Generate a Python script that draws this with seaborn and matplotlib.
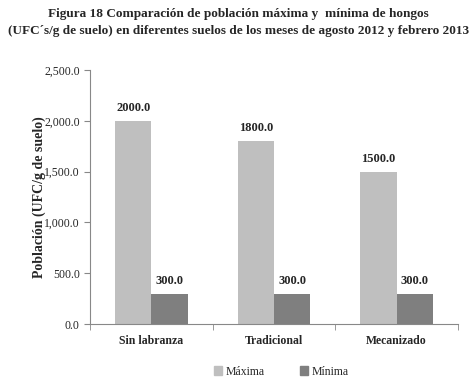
import numpy as np
import pandas as pd
import seaborn as sns
import matplotlib.pyplot as plt
from matplotlib.patches import Patch
from matplotlib.ticker import FuncFormatter

suelos = ['Sin labranza', 'Tradicional', 'Mecanizado']
maxima = [2000.0, 1800.0, 1500.0]
minima = [300.0, 300.0, 300.0]
series = ['Máxima', 'Mínima']
colores = ['#bfbfbf', '#7f7f7f']

df = pd.DataFrame({'Suelo': suelos * 2,
                   'Serie': [series[0]] * 3 + [series[1]] * 3,
                   'Valor': maxima + minima})

sns.set_style('white')
plt.rcParams['font.family'] = ['Liberation Serif', 'DejaVu Serif']

fig = plt.figure(figsize=(4.77, 3.80), dpi=100)
ax = fig.add_axes([0.189, 0.147, 0.771, 0.669])

sns.barplot(data=df, x='Suelo', y='Valor', hue='Serie', palette=colores,
            width=0.59, saturation=1, linewidth=0, ax=ax, legend=False)

for cont in ax.containers:
    ax.bar_label(cont, labels=['%.1f' % v for v in cont.datavalues],
                 padding=5, fontsize=9, fontweight='bold')

ax.set_ylim(0, 2500)
ax.set_xlim(-0.5, 2.5)
ax.set_yticks(np.arange(0, 2501, 500))
ax.yaxis.set_major_formatter(FuncFormatter(lambda v, p: '{:,.1f}'.format(v)))
ax.set_xticks(range(3))
ax.set_xticklabels(suelos, fontweight='bold', fontsize=8.5)
ax.set_xticks([-0.5, 0.5, 1.5, 2.5], minor=True)
ax.tick_params(axis='x', which='major', length=0, pad=8)
ax.tick_params(axis='x', which='minor', length=4, direction='out', bottom=True, color='#888888')
ax.tick_params(axis='y', length=4, direction='out', left=True, labelsize=8.5, color='#888888')
ax.set_xlabel('')
ax.set_ylabel('Población (UFC/g de suelo)', fontsize=10, fontweight='bold')
ax.yaxis.set_label_coords(-0.12, 0.5)
for s in ['top', 'right']:
    ax.spines[s].set_visible(False)
for s in ['left', 'bottom']:
    ax.spines[s].set_color('#888888')
    ax.spines[s].set_linewidth(0.8)

handles = [Patch(color=c, label=l) for c, l in zip(colores, series)]
fig.legend(handles=handles, loc='center', bbox_to_anchor=(0.59, 0.022), ncol=2,
           frameon=False, fontsize=8.5, handlelength=0.7, handleheight=0.7,
           handletextpad=0.3, columnspacing=3)

fig.text(0.5, 0.955, 'Figura 18 Comparación de población máxima y  mínima de hongos',
         ha='center', fontsize=9.5, fontweight='bold')
fig.text(0.5, 0.91, '(UFC´s/g de suelo) en diferentes suelos de los meses de agosto 2012 y febrero 2013',
         ha='center', fontsize=9.5, fontweight='bold')

fig.savefig('out.png', dpi=100)
